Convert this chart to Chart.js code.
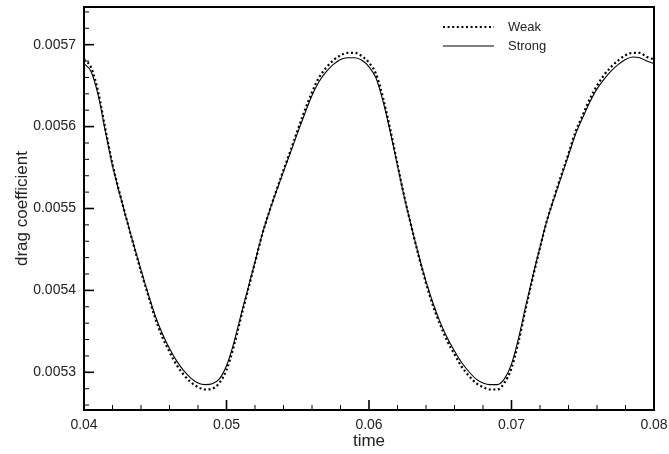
<!DOCTYPE html>
<html>
<head>
<meta charset="utf-8">
<script src="https://cdn.jsdelivr.net/npm/chart.js@4"></script>
<style>
  html, body { margin: 0; padding: 0; background: #fff; }
  canvas { display: block; }
</style>
</head>
<body>
<canvas id="c" width="669" height="454"></canvas>
<script>
// ---- data ----
const times = [
  0.0400, 0.0405, 0.0410, 0.0415, 0.0420, 0.0425, 0.0430, 0.0435, 0.0440, 0.0445,
  0.0450, 0.0455, 0.0460, 0.0465, 0.0470, 0.0475, 0.0480, 0.0485, 0.0490, 0.0495,
  0.0500, 0.0505, 0.0510, 0.0515, 0.0520, 0.0525, 0.0530, 0.0535, 0.0540, 0.0545,
  0.0550, 0.0555, 0.0560, 0.0565, 0.0570, 0.0575, 0.0580, 0.0585, 0.0590, 0.0595,
  0.0600, 0.0605, 0.0610, 0.0615, 0.0620, 0.0625, 0.0630, 0.0635, 0.0640, 0.0645,
  0.0650, 0.0655, 0.0660, 0.0665, 0.0670, 0.0675, 0.0680, 0.0685, 0.0690, 0.0695,
  0.0700, 0.0705, 0.0710, 0.0715, 0.0720, 0.0725, 0.0730, 0.0735, 0.0740, 0.0745,
  0.0750, 0.0755, 0.0760, 0.0765, 0.0770, 0.0775, 0.0780, 0.0785, 0.0790, 0.0795,
  0.0800
];
const strong = [
  0.005677, 0.005667, 0.005638, 0.005594, 0.005552, 0.005518, 0.005486, 0.005455, 0.005425, 0.005396,
  0.005369, 0.005347, 0.005329, 0.005314, 0.005302, 0.005293, 0.005287, 0.005285, 0.005286, 0.005292,
  0.005308, 0.005335, 0.005369, 0.005402, 0.005435, 0.005468, 0.005496, 0.005521, 0.005545, 0.005569,
  0.005593, 0.005616, 0.005638, 0.005655, 0.005667, 0.005676, 0.005682, 0.005684, 0.005684, 0.005681,
  0.005673, 0.005659, 0.005630, 0.005593, 0.005552, 0.005512, 0.005476, 0.005442, 0.005411, 0.005384,
  0.005361, 0.005342, 0.005326, 0.005312, 0.005301, 0.005292, 0.005287, 0.005285, 0.005285, 0.005292,
  0.005310, 0.005342, 0.005381, 0.005418, 0.005453, 0.005486, 0.005513, 0.005539, 0.005565, 0.005591,
  0.005611, 0.005630, 0.005646, 0.005658, 0.005668, 0.005676, 0.005682, 0.005685, 0.005684, 0.005680,
  0.005677
];
const weak = [
  0.005682, 0.005672, 0.005642, 0.005597, 0.005554, 0.005519, 0.005486, 0.005454, 0.005423, 0.005394,
  0.005366, 0.005343, 0.005325, 0.005309, 0.005297, 0.005288, 0.005282, 0.005279, 0.005280, 0.005287,
  0.005303, 0.005331, 0.005366, 0.005400, 0.005434, 0.005468, 0.005496, 0.005522, 0.005547, 0.005571,
  0.005596, 0.005620, 0.005642, 0.005660, 0.005672, 0.005681, 0.005687, 0.005690, 0.005690, 0.005686,
  0.005678, 0.005664, 0.005634, 0.005596, 0.005554, 0.005513, 0.005476, 0.005441, 0.005409, 0.005381,
  0.005358, 0.005338, 0.005322, 0.005307, 0.005296, 0.005287, 0.005282, 0.005279, 0.005279, 0.005287,
  0.005305, 0.005338, 0.005378, 0.005416, 0.005452, 0.005486, 0.005514, 0.005541, 0.005567, 0.005594,
  0.005614, 0.005634, 0.005650, 0.005663, 0.005673, 0.005681, 0.005687, 0.005690, 0.005690, 0.005685,
  0.005682
];
const xTicks = [0.04, 0.05, 0.06, 0.07, 0.08];
const yTicks = [0.0053, 0.0054, 0.0055, 0.0056, 0.0057];
const seriesNames = ['Weak', 'Strong'];
const xTitle = 'time';
const yTitle = 'drag coefficient';

const FONT = '"Liberation Sans", Arial, Helvetica, sans-serif';

// draws the frame, inward ticks and legend
const framePlugin = {
  id: 'frame',
  afterDatasetsDraw(chart) {
    const {ctx, chartArea: a, scales: {x, y}} = chart;
    ctx.save();
    ctx.strokeStyle = '#000';
    const xs = xTicks;
    for (let i = 0; i < xs.length; i++) {
      const px = x.getPixelForValue(xs[i]);
      ctx.lineWidth = 1.6;
      ctx.beginPath(); ctx.moveTo(px, a.bottom); ctx.lineTo(px, a.bottom - 10); ctx.stroke();
      if (i < xs.length - 1) {
        const step = (xs[i + 1] - xs[i]) / 5;
        ctx.lineWidth = 1;
        for (let k = 1; k < 5; k++) {
          const mx = x.getPixelForValue(xs[i] + k * step);
          ctx.beginPath(); ctx.moveTo(mx, a.bottom); ctx.lineTo(mx, a.bottom - 5); ctx.stroke();
        }
      }
    }
    const ys = yTicks;
    const ystep = (ys[1] - ys[0]) / 5;
    for (let i = 0; i < ys.length; i++) {
      const py = y.getPixelForValue(ys[i]);
      ctx.lineWidth = 1.6;
      ctx.beginPath(); ctx.moveTo(a.left, py); ctx.lineTo(a.left + 10, py); ctx.stroke();
    }
    ctx.lineWidth = 1;
    for (let v = ys[0] - 5 * ystep; v <= ys[ys.length - 1] + 5 * ystep + 1e-12; v += ystep) {
      const py = y.getPixelForValue(v);
      if (py < a.top + 1 || py > a.bottom - 1) continue;
      ctx.beginPath(); ctx.moveTo(a.left, py); ctx.lineTo(a.left + 5, py); ctx.stroke();
    }
    ctx.lineWidth = 2;
    ctx.strokeRect(a.left, a.top, a.right - a.left, a.bottom - a.top);

    // legend
    const ds = chart.data.datasets;
    const lx0 = a.right - 211, lx1 = a.right - 160, tx = a.right - 146;
    const rows = [a.top + 20, a.top + 39];
    ctx.font = '13px ' + FONT;
    ctx.fillStyle = '#222';
    ctx.textBaseline = 'middle';
    ds.forEach((d, i) => {
      ctx.save();
      ctx.strokeStyle = d.borderColor;
      ctx.lineWidth = d.borderWidth;
      ctx.setLineDash(d.borderDash || []);
      ctx.beginPath(); ctx.moveTo(lx0, rows[i]); ctx.lineTo(lx1, rows[i]); ctx.stroke();
      ctx.restore();
      ctx.fillText(d.label, tx, rows[i]);
    });
    ctx.restore();
  }
};

new Chart(document.getElementById('c'), {
  type: 'line',
  data: {
    datasets: [
      {
        label: seriesNames[0],
        data: times.map((t, i) => ({x: t, y: weak[i]})),
        borderColor: '#000',
        borderWidth: 2.2,
        borderDash: [2, 2.6],
        pointRadius: 0,
        cubicInterpolationMode: 'monotone',
        fill: false
      },
      {
        label: seriesNames[1],
        data: times.map((t, i) => ({x: t, y: strong[i]})),
        borderColor: '#000',
        borderWidth: 1.1,
        pointRadius: 0,
        cubicInterpolationMode: 'monotone',
        fill: false
      }
    ]
  },
  options: {
    responsive: false,
    animation: false,
    layout: {padding: {top: 7, right: 15, left: 0, bottom: 0}},
    plugins: {legend: {display: false}, tooltip: {enabled: false}},
    scales: {
      x: {
        type: 'linear',
        min: xTicks[0],
        max: xTicks[xTicks.length - 1],
        afterBuildTicks: s => { s.ticks = xTicks.map(v => ({value: v})); },
        afterFit: s => { s.height = 44; s.paddingLeft = 0; s.paddingRight = 0; },
        grid: {display: false, drawTicks: false},
        border: {display: false},
        ticks: {
          padding: 7,
          color: '#222',
          font: {family: FONT, size: 14},
          maxRotation: 0,
          callback: v => v.toFixed(2)
        },
        title: {
          display: true, text: xTitle, color: '#222',
          font: {family: FONT, size: 17},
          padding: {top: 0, bottom: 2}
        }
      },
      y: {
        type: 'linear',
        min: 0.005254,
        max: 0.005746,
        afterBuildTicks: s => { s.ticks = yTicks.map(v => ({value: v})); },
        afterFit: s => { s.width = 84; s.paddingTop = 0; s.paddingBottom = 0; },
        grid: {display: false, drawTicks: false},
        border: {display: false},
        ticks: {
          padding: 8,
          color: '#222',
          font: {family: FONT, size: 14},
          callback: v => v.toFixed(4)
        },
        title: {
          display: true, text: yTitle, color: '#222',
          font: {family: FONT, size: 17},
          padding: {top: 12, bottom: 0}
        }
      }
    }
  },
  plugins: [framePlugin]
});
</script>
</body>
</html>
